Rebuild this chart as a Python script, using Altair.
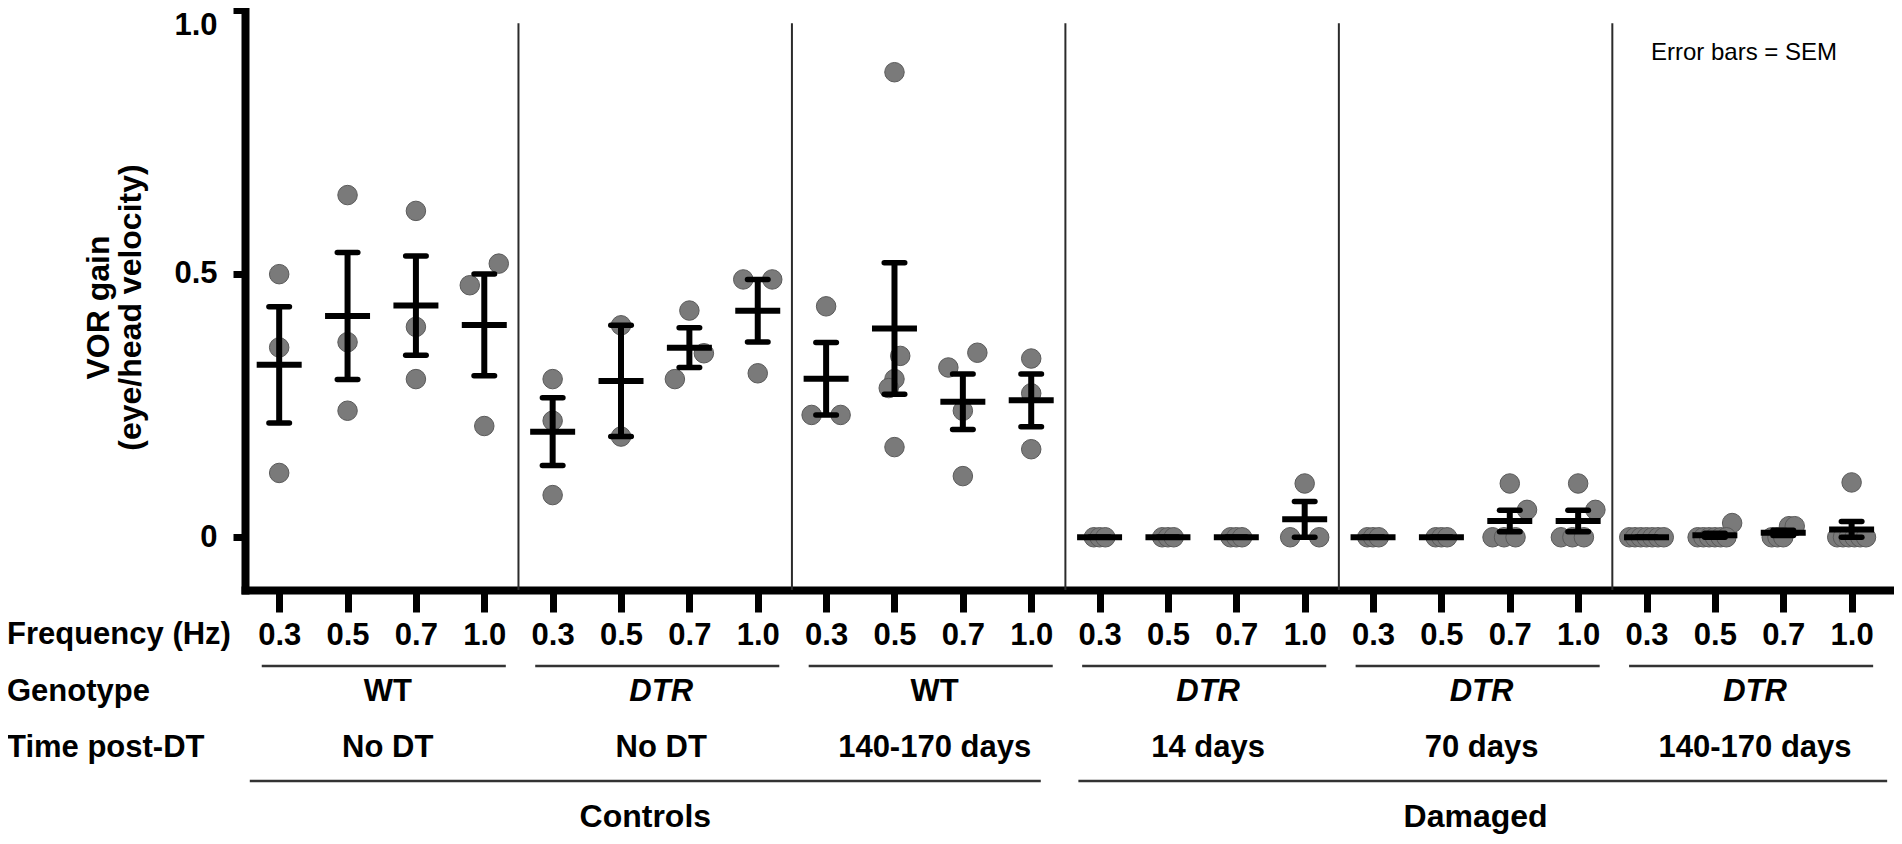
import altair as alt
import pandas as pd

# ---------------- data ----------------
freqs = ["0.3", "0.5", "0.7", "1.0"]
genotypes = ["WT", "DTR", "WT", "DTR", "DTR", "DTR"]
times = ["No DT", "No DT", "140-170 days", "14 days", "70 days", "140-170 days"]
cohorts = ["Controls", "Damaged"]

# VOR gain of each animal, per frequency (0.3, 0.5, 0.7, 1.0 Hz)
wt_nodt = [[0.499, 0.360, 0.122], [0.649, 0.370, 0.240],
           [0.619, 0.399, 0.300], [0.519, 0.478, 0.211]]
dtr_nodt = [[0.300, 0.221, 0.080], [0.402, 0.191],
            [0.430, 0.349, 0.300], [0.489, 0.489, 0.311]]
wt_late = [[0.438, 0.232, 0.232], [0.882, 0.344, 0.300, 0.283, 0.171],
           [0.350, 0.322, 0.240, 0.116], [0.339, 0.273, 0.167]]
dtr_14 = [[0.0, 0.0, 0.0], [0.0, 0.0, 0.0],
          [0.0, 0.0, 0.0], [0.102, 0.0, 0.0]]
dtr_70 = [[0.0, 0.0, 0.0], [0.0, 0.0, 0.0],
          [0.102, 0.052, 0.0, 0.0, 0.0], [0.102, 0.052, 0.0, 0.0, 0.0]]
dtr_late = [[0.0, 0.0, 0.0, 0.0, 0.0, 0.0, 0.0],
            [0.027, 0.0, 0.0, 0.0, 0.0, 0.0, 0.0],
            [0.021, 0.021, 0.0, 0.0, 0.0],
            [0.104, 0.0, 0.0, 0.0, 0.0, 0.0, 0.0]]
groups = [wt_nodt, dtr_nodt, wt_late, dtr_14, dtr_70, dtr_late]

# ---------------- layout ----------------
W, H = 1649, 580
X_DOMAIN = [-0.5, 23.62]
Y_DOMAIN = [-0.1, 1.0]
PX_X = W / (X_DOMAIN[1] - X_DOMAIN[0])
PX_Y = H / (Y_DOMAIN[1] - Y_DOMAIN[0])
FONT = "Liberation Sans"


def spread(values):
    """Scatter-dot-plot style horizontal spreading of overlapping points (px)."""
    order = sorted(range(len(values)), key=lambda i: values[i])
    clusters = []
    for i in order:
        if clusters and (values[i] - values[clusters[-1][0]]) * PX_Y < 33:
            clusters[-1].append(i)
        else:
            clusters.append([i])
    offs = [0.0] * len(values)
    for c in clusters:
        n = len(c)
        step = {1: 0.0, 2: 29.0, 3: 5.75, 4: 11.5}.get(n, 5.75)
        for k, i in enumerate(c):
            offs[i] = (k - (n - 1) / 2) * step
    return offs


rows = []
for g, grp in enumerate(groups):
    for f, vals in enumerate(grp):
        idx = 4 * g + f
        for v, o in zip(vals, spread(vals)):
            rows.append({"idx": idx, "v": v, "x": idx + o / PX_X})
pts = pd.DataFrame(rows)

grp_df = pd.DataFrame({
    "c": [4 * g + 1.5 for g in range(6)],
    "genotype": genotypes,
    "time": times,
    "italic": [gt == "DTR" for gt in genotypes],
})
grp_df["l"] = grp_df["c"] - 1.755
grp_df["r"] = grp_df["c"] + 1.815

sep_df = pd.DataFrame({"x": [4 * g - 0.5 for g in range(1, 6)],
                       "top": 0.975, "bot": Y_DOMAIN[0]})

coh_df = pd.DataFrame({"name": cohorts,
                       "l": [-0.5 + 0.07, 11.5 + 0.19],
                       "r": [11.5 - 0.36, 23.5 + 0.02]})
coh_df["c"] = [(coh_df["l"][0] + coh_df["r"][0]) / 2, 17.5]

xs = alt.Scale(domain=X_DOMAIN, nice=False, zero=False)
ys = alt.Scale(domain=Y_DOMAIN, nice=False, zero=False)

x_axis = alt.Axis(
    values=list(range(24)),
    labelExpr="['0.3','0.5','0.7','1.0'][datum.value % 4]",
    title=None, grid=False, tickSize=22, tickWidth=7, tickColor="black",
    domainWidth=8, domainColor="black", domainCap="square",
    labelFont=FONT, labelFontSize=31, labelFontWeight="bold", labelColor="black",
    labelBaseline="alphabetic", labelPadding=32, labelFlush=False,
    labelOverlap=False,
)
y_axis = alt.Axis(
    values=[0, 0.5, 1.0],
    labelExpr="datum.value == 0 ? '0' : format(datum.value, '.1f')",
    grid=False, tickSize=12, tickWidth=7, tickColor="black",
    domainWidth=8, domainColor="black", domainCap="square",
    labelFont=FONT, labelFontSize=31, labelFontWeight="bold", labelColor="black",
    labelPadding=16, labelFlush=True,
    title=["VOR gain", "(eye/head velocity)"],
    titleFont=FONT, titleFontSize=32, titleFontWeight="bold", titleColor="black",
    titleAngle=270, titleAlign="center", titleBaseline="bottom",
    titleX=-130, titleY=297, titleLineHeight=32,
)


def X(field):
    return alt.X(field, scale=xs, axis=x_axis)


def Y(field):
    return alt.Y(field, scale=ys, axis=y_axis)


base = alt.Chart(pts)

points = base.mark_circle(size=380, color="#7a7a7a", stroke="#5a5a5a",
                          strokeWidth=1, opacity=1).encode(
    x=X("x:Q"), y=Y("v:Q"))

seps = alt.Chart(sep_df).mark_rule(color="#2b2b2b", strokeWidth=2).encode(
    x=X("x:Q"), y=Y("top:Q"), y2="bot:Q")

stats = base.transform_aggregate(
    m="mean(v)", se="stderr(v)", groupby=["idx"]
).transform_calculate(
    lo="datum.m - datum.se", hi="datum.m + datum.se",
    ml="datum.idx - 0.329", mr="datum.idx + 0.329",
    cl="datum.idx - 0.15", cr="datum.idx + 0.15",
)

mean_bar = stats.mark_rule(color="black", strokeWidth=6).encode(
    x=X("ml:Q"), x2="mr:Q", y=Y("m:Q"))
whisker = stats.mark_rule(color="black", strokeWidth=6).encode(
    x=X("idx:Q"), y=Y("lo:Q"), y2="hi:Q")
cap_hi = stats.mark_rule(color="black", strokeWidth=5.5, strokeCap="round").encode(
    x=X("cl:Q"), x2="cr:Q", y=Y("hi:Q"))
cap_lo = stats.mark_rule(color="black", strokeWidth=5.5, strokeCap="round").encode(
    x=X("cl:Q"), x2="cr:Q", y=Y("lo:Q"))

note = alt.Chart(pd.DataFrame({"t": ["Error bars = SEM"]})).mark_text(
    font=FONT, fontSize=24, color="black", align="left", baseline="alphabetic"
).encode(x=alt.value(1406), y=alt.value(50), text="t:N")

row_heads = alt.Chart(pd.DataFrame({
    "t": ["Frequency (Hz)", "Genotype", "Time post-DT"],
    "y": [634, 691, 747],
})).mark_text(font=FONT, fontSize=31, fontWeight="bold", color="black",
              align="left", baseline="alphabetic").encode(
    x=alt.value(-238), y=alt.Y("y:Q", scale=None), text="t:N")

grp_lines = alt.Chart(grp_df).mark_rule(color="#333333", strokeWidth=2.5).encode(
    x=X("l:Q"), x2="r:Q", y=alt.value(656))

geno_plain = alt.Chart(grp_df).transform_filter("!datum.italic").mark_text(
    font=FONT, fontSize=31, fontWeight="bold", color="black",
    align="center", baseline="alphabetic", dx=6).encode(
    x=X("c:Q"), y=alt.value(691), text="genotype:N")
geno_ital = alt.Chart(grp_df).transform_filter("datum.italic").mark_text(
    font=FONT, fontSize=31, fontWeight="bold", fontStyle="italic", color="black",
    align="center", baseline="alphabetic", dx=6).encode(
    x=X("c:Q"), y=alt.value(691), text="genotype:N")
time_txt = alt.Chart(grp_df).mark_text(
    font=FONT, fontSize=31, fontWeight="bold", color="black",
    align="center", baseline="alphabetic", dx=6).encode(
    x=X("c:Q"), y=alt.value(747), text="time:N")

coh_lines = alt.Chart(coh_df).mark_rule(color="#333333", strokeWidth=2.5).encode(
    x=X("l:Q"), x2="r:Q", y=alt.value(771))
coh_txt = alt.Chart(coh_df).mark_text(
    font=FONT, fontSize=32, fontWeight="bold", color="black",
    align="center", baseline="alphabetic").encode(
    x=X("c:Q"), y=alt.value(817), text="name:N")

chart = alt.layer(
    points, seps, mean_bar, whisker, cap_hi, cap_lo, note,
    row_heads, grp_lines, geno_plain, geno_ital, time_txt, coh_lines, coh_txt,
).properties(
    width=W, height=H,
    autosize=alt.AutoSizeParams(type="none"),
    padding={"left": 237, "top": 2, "right": 0, "bottom": 246},
    background="white",
).configure_view(stroke=None)

chart.save("out.html", embed_options={"renderer": "svg", "actions": False})
